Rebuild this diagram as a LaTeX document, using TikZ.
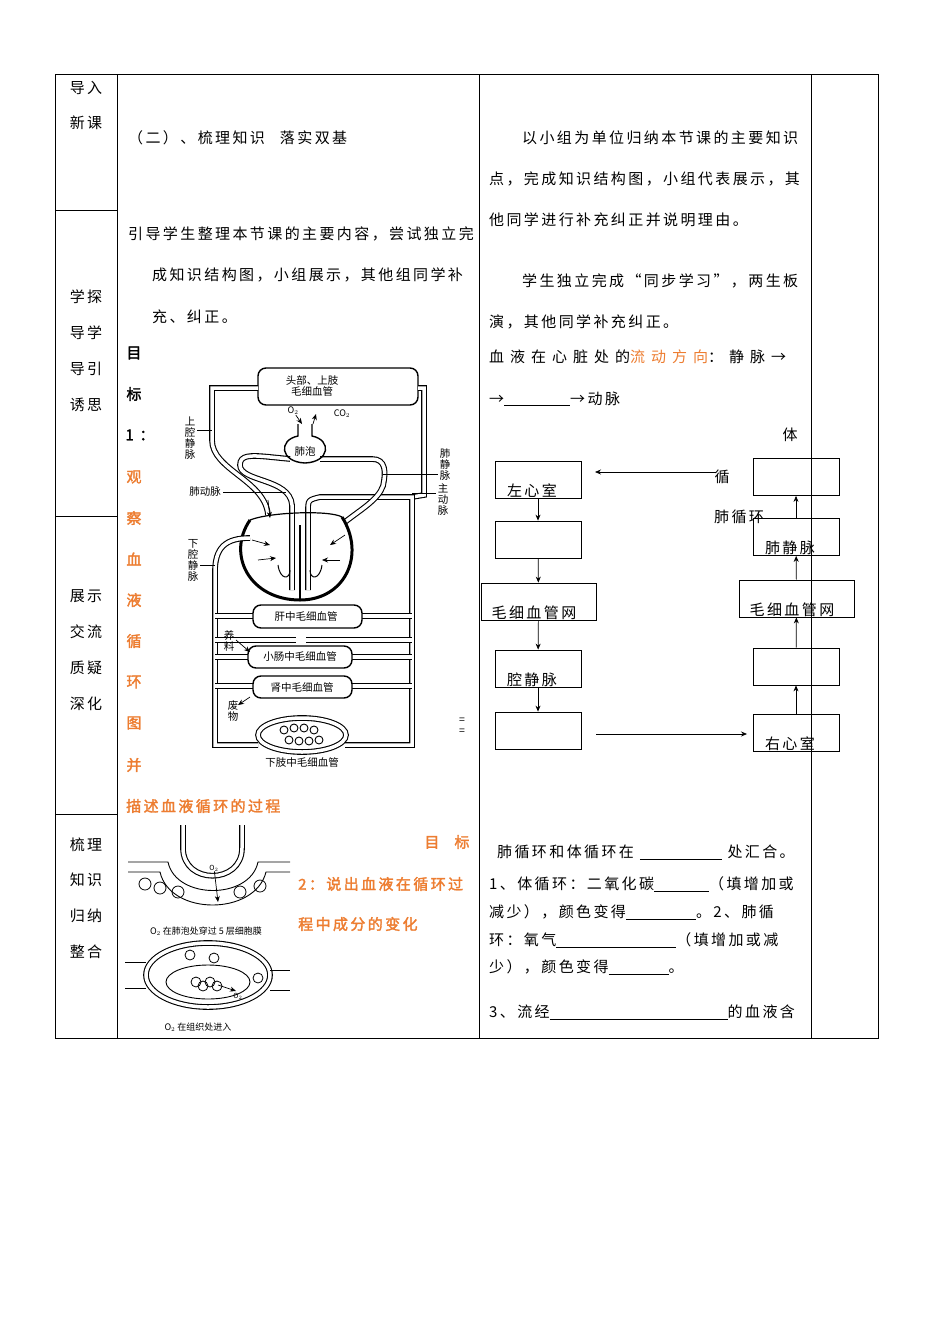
\documentclass[tikz,border=0pt]{standalone}
\usepackage{fontspec}
\setmainfont{Noto Sans CJK SC}[LetterSpace=16,AutoFakeBold=2]
\newfontfamily\smallcjk{Noto Sans CJK SC}
\usetikzlibrary{arrows.meta}
\definecolor{org}{RGB}{237,125,49}
\tikzset{
  tx/.style={anchor=west,inner sep=0,font=\fontsize{15}{18}\selectfont},
  ct/.style={anchor=center,inner sep=0,font=\fontsize{15}{18}\selectfont},
  lb/.style={anchor=center,inner sep=0,font=\smallcjk\fontsize{10.5}{11}\selectfont,align=center},
  ob/.style={anchor=center,inner sep=0,font=\fontsize{15}{18}\selectfont\bfseries,text=org},
  ves/.style={draw=black,line width=1.1pt,double=white,double distance=3.5pt},
  fbox/.style={draw,line width=0.8pt,minimum width=86pt,minimum height=37pt,inner sep=0},
  wbox/.style={draw,line width=0.8pt,minimum width=115pt,minimum height=37pt,inner sep=0},
  arr/.style={-{Stealth[length=6pt,width=5pt]},line width=0.7pt},
  grid/.style={line width=0.8pt}
}
\begin{document}
\begin{tikzpicture}[x=1pt,y=-1pt]
\useasboundingbox (0,0) rectangle (950,1344);
\fill[white] (0,0) rectangle (950,1344);
% table
\draw[grid] (55,74) rectangle (878,1038);
\foreach \x in {117,479,811} \draw[grid] (\x,74) -- (\x,1038);
\foreach \y in {210,516,814} \draw[grid] (55,\y) -- (117,\y);
% column 1
\foreach \t/\y in {导入/88,新课/123,学探/297,导学/333,导引/369,诱思/405,展示/596,交流/632,质疑/668,深化/704,梳理/845,知识/880,归纳/916,整合/952}
  \node[ct] (c\y) at (86,\y) {\t};
% column 2
\node[tx] (t1) at (128,138) {（二）、梳理知识\quad 落实双基};
\node[tx] (t2) at (128,234) {引导学生整理本节课的主要内容，尝试独立完};
\node[tx] (t3) at (152,275) {成知识结构图，小组展示，其他组同学补};
\node[tx] (t4) at (152,317) {充、纠正。};
\node[ct,font=\fontsize{15}{18}\selectfont\bfseries] (m1) at (134,353) {目};
\node[ct,font=\fontsize{15}{18}\selectfont\bfseries] (m2) at (134,394) {标};
\node[ct,font=\fontsize{15}{18}\selectfont\bfseries] (m3) at (140,435) {1 ：};
\foreach \t/\y in {观/477,察/518,血/559,液/600,循/641,环/682,图/723,并/765}
  \node[ob] (o\y) at (134,\y) {\t};
\node[ob,anchor=west] (d1) at (126,806) {描述血液循环的过程};
\node[ob] (d2) at (447,842) {目\quad 标};
\node[ob,anchor=west] (d3) at (298,884) {2：说出血液在循环过};
\node[ob,anchor=west] (d4) at (298,924) {程中成分的变化};
% circulation diagram
\draw[line width=1.4pt,rounded corners=8pt] (258,368) rectangle (418,405);
\node[lb] (hb) at (312,386) {头部、上肢\\毛细血管};
\draw[ves] (258,388) -- (212,388) -- (212,440) .. controls (212,470) and (265,480) .. (268,515);
\draw[ves] (418,388) -- (424,388) -- (424,495) -- (412,497);
\draw[ves] (308,590) -- (308,512) .. controls (308,500) .. (320,497) -- (412,497) -- (412,745) -- (345,745);
\draw[ves] (292,590) -- (292,505) .. controls (290,478) and (240,482) .. (240,465) .. controls (240,455) and (250,455) .. (270,457) -- (290,459);
\draw[ves] (320,459) -- (372,459) .. controls (386,459) and (386,472) .. (383,486) .. controls (378,500) and (360,510) .. (345,522);
\draw[line width=1.4pt] (298,424) -- (298,436) .. controls (278,440) and (280,462) .. (305,463) .. controls (330,462) and (332,440) .. (312,436) -- (312,424);
\node[lb] (lp) at (305,452) {肺泡};
\node[lb,font=\smallcjk\fontsize{9}{9}\selectfont] (o2) at (293,411) {O$_2$};
\node[lb,font=\smallcjk\fontsize{9}{9}\selectfont] (co2) at (342,414) {CO$_2$};
\draw[arr] (o2) -- (302,424);
\draw[arr] (313,424) -- (316,414);
% heart
\draw[line width=3pt] (250,520) .. controls (226,555) and (250,600) .. (300,600) .. controls (345,600) and (366,555) .. (342,517);
\draw[line width=1.2pt] (250,520) .. controls (270,512) and (330,510) .. (342,517);
\draw[line width=1.5pt] (300,525) -- (300,600);
\draw[arr] (268,500) -- (270,518);
\draw[arr] (252,540) -- (270,545);
\draw[arr] (258,560) -- (276,558);
\draw[arr] (345,535) -- (330,545);
\draw[arr] (340,560) -- (322,560);
\draw[line width=1pt] (278,565) .. controls (280,580) and (290,580) .. (290,570);
\draw[line width=1pt] (322,565) .. controls (320,580) and (310,580) .. (310,570);
\draw[ves] (250,538) .. controls (225,538) and (215,548) .. (215,572) -- (215,745) -- (258,745);
% organs
\draw[ves] (215,616) -- (253,616); \draw[ves] (362,616) -- (412,616);
\draw[line width=1.4pt,rounded corners=8pt,fill=white] (253,605) rectangle (362,628);
\node[lb] (gan) at (306,616) {肝中毛细血管};
\draw[ves] (215,640) -- (296,640); \draw[ves] (306,640) -- (412,640);
\draw[ves] (215,657) -- (250,657); \draw[ves] (352,657) -- (412,657);
\draw[line width=1.4pt,rounded corners=8pt,fill=white] (248,646) rectangle (352,668);
\node[lb] (xc) at (300,656) {小肠中毛细血管};
\draw[ves] (215,686) -- (255,686); \draw[ves] (352,686) -- (412,686);
\draw[line width=1.4pt,rounded corners=8pt,fill=white] (253,676) rectangle (352,698);
\node[lb] (sh) at (302,687) {肾中毛细血管};
\node[lb] (yl) at (229,641) {养\\料};
\draw[arr] (236,640) -- (250,652);
\node[lb] (fw) at (233,711) {废\\物};
\draw[arr] (250,697) -- (238,705);
\draw[ves] (302,735) ellipse [x radius=44pt,y radius=17pt];
\foreach \a/\b in {284/730,294/728,304/728,314/730,289/740,299/741,309/741,319/740}
  \draw[line width=0.9pt] (\a,\b) circle (4pt);
\node[lb] (xz) at (302,762) {下肢中毛细血管};
\node[lb] (sq) at (190,438) {上\\腔\\静\\脉};
\draw (197,430) -- (212,430);
\node[lb] (fd) at (205,492) {肺动脉};
\draw (223,492) -- (286,492);
\node[lb] (xq) at (193,560) {下\\腔\\静\\脉};
\draw (200,565) -- (215,565);
\node[lb] (fj) at (445,465) {肺\\静\\脉};
\draw (383,474) -- (438,474);
\node[lb] (zd) at (443,500) {主\\动\\脉};
\draw (412,493) -- (436,493);
\node[lb] (eq) at (462,726) {=\\=};
% lower images
\draw[ves] (183,825) -- (183,848) .. controls (183,885) and (242,885) .. (242,848) -- (242,825);
\draw[line width=0.9pt] (128,862) -- (168,862) .. controls (176,900) and (250,900) .. (258,862) -- (290,862);
\draw[line width=0.9pt] (128,872) -- (160,872) .. controls (170,916) and (255,916) .. (266,872) -- (290,872);
\foreach \a/\b in {145/884,160/888,178/892,240/892,260/886}
  \draw[line width=0.8pt] (\a,\b) circle (6pt);
\node[lb,font=\smallcjk\fontsize{7}{8}\selectfont] (o2a) at (214,868) {O$_2$};
\draw[arr] (o2a) -- (218,902);
\node[lb,font=\smallcjk\fontsize{9}{10}\selectfont] (cap1) at (206,931) {O$_2$ 在肺泡处穿过 5 层细胞膜};
\draw[ves] (208,975) ellipse [x radius=62pt,y radius=32pt];
\draw[line width=0.9pt] (208,982) ellipse [x radius=42pt,y radius=17pt];
\draw[line width=0.9pt] (125,962) -- (146,962); \draw[line width=0.9pt] (125,988) -- (146,988);
\draw[line width=0.9pt] (270,970) -- (290,970); \draw[line width=0.9pt] (270,990) -- (290,990);
\foreach \a/\b in {190/955,214/958,196/982,203/986,210/982,217/986,258/978}
  \draw[line width=0.8pt] (\a,\b) circle (5pt);
\node[lb,font=\smallcjk\fontsize{7}{8}\selectfont] (o2b) at (238,996) {O$_2$};
\draw[arr] (218,985) -- (236,991);
\node[lb,font=\smallcjk\fontsize{9}{10}\selectfont] (cap2) at (198,1027) {O$_2$ 在组织处进入};
% column 3 text
\node[tx] (r1) at (522,138) {以小组为单位归纳本节课的主要知识};
\node[tx] (r2) at (489,179) {点，完成知识结构图，小组代表展示，其};
\node[tx] (r3) at (489,220) {他同学进行补充纠正并说明理由。};
\node[tx] (r4) at (522,281) {学生独立完成“同步学习”，两生板};
\node[tx] (r5) at (489,322) {演，其他同学补充纠正。};
\node[tx,font=\addfontfeature{LetterSpace=40}\fontsize{15}{18}\selectfont] (r6) at (489,357) {血液在心脏处的\textcolor{org}{流动方向}：静脉→};
\node[tx] (r7) at (489,399) {→\underline{\hspace{66pt}}→动脉};
% flowchart
\node[fbox] (b1) at (538,479.5) {};
\node[tx,anchor=base] (b1t) at (532,496) {左心室};
\node[fbox] (b2) at (538,539.5) {};
\node[wbox] (b3) at (538.5,601.5) {};
\node[tx,anchor=base] (b3t) at (534,618) {毛细血管网};
\node[fbox] (b4) at (538,668.5) {};
\node[tx,anchor=base] (b4t) at (532,685) {腔静脉};
\node[fbox] (b5) at (538,730.5) {};
\node[fbox] (g1) at (796,477) {};
\node[fbox] (g2) at (796,537) {};
\node[tx,anchor=base] (g2t) at (790,553) {肺静脉};
\node[wbox] (g3) at (796.5,598.5) {};
\node[tx,anchor=base] (g3t) at (792,615) {毛细血管网};
\node[fbox] (g4) at (796,666.5) {};
\node[fbox] (g5) at (796,732.5) {};
\node[tx,anchor=base] (g5t) at (790,749) {右心室};
\draw[arr] (b1) -- (b2);
\draw[arr] (b2) -- (b3);
\draw[arr] (b3) -- (b4);
\draw[arr] (b4) -- (b5);
\draw[arr] (g5) -- (g4);
\draw[arr] (g4) -- (g3);
\draw[arr] (g3) -- (g2);
\draw[arr] (g2) -- (g1);
\coordinate (h1) at (716,472);
\coordinate (h2) at (595,472);
\draw[arr] (h1) -- (h2);
\coordinate (h3) at (596,734);
\coordinate (h4) at (747,734);
\draw[arr] (h3) -- (h4);
\node[ct] (ti) at (790,435) {体};
\node[ct] (xun) at (722,477) {循};
\node[tx] (fxh) at (714,517) {肺循环};
% bottom text
\node[tx] (s1) at (497,852) {肺循环和体循环在 \underline{\hspace{82pt}} 处汇合。};
\node[tx] (s2) at (489,884) {1、体循环：二氧化碳\underline{\hspace{55pt}}（填增加或};
\node[tx] (s3) at (489,912) {减少），颜色变得\underline{\hspace{70pt}}。2、肺循};
\node[tx] (s4) at (489,940) {环：氧气\underline{\hspace{120pt}}（填增加或减};
\node[tx] (s5) at (489,967) {少），颜色变得\underline{\hspace{60pt}}。};
\node[tx] (s6) at (489,1012) {3、流经\underline{\hspace{178pt}}的血液含};
\end{tikzpicture}
\end{document}
